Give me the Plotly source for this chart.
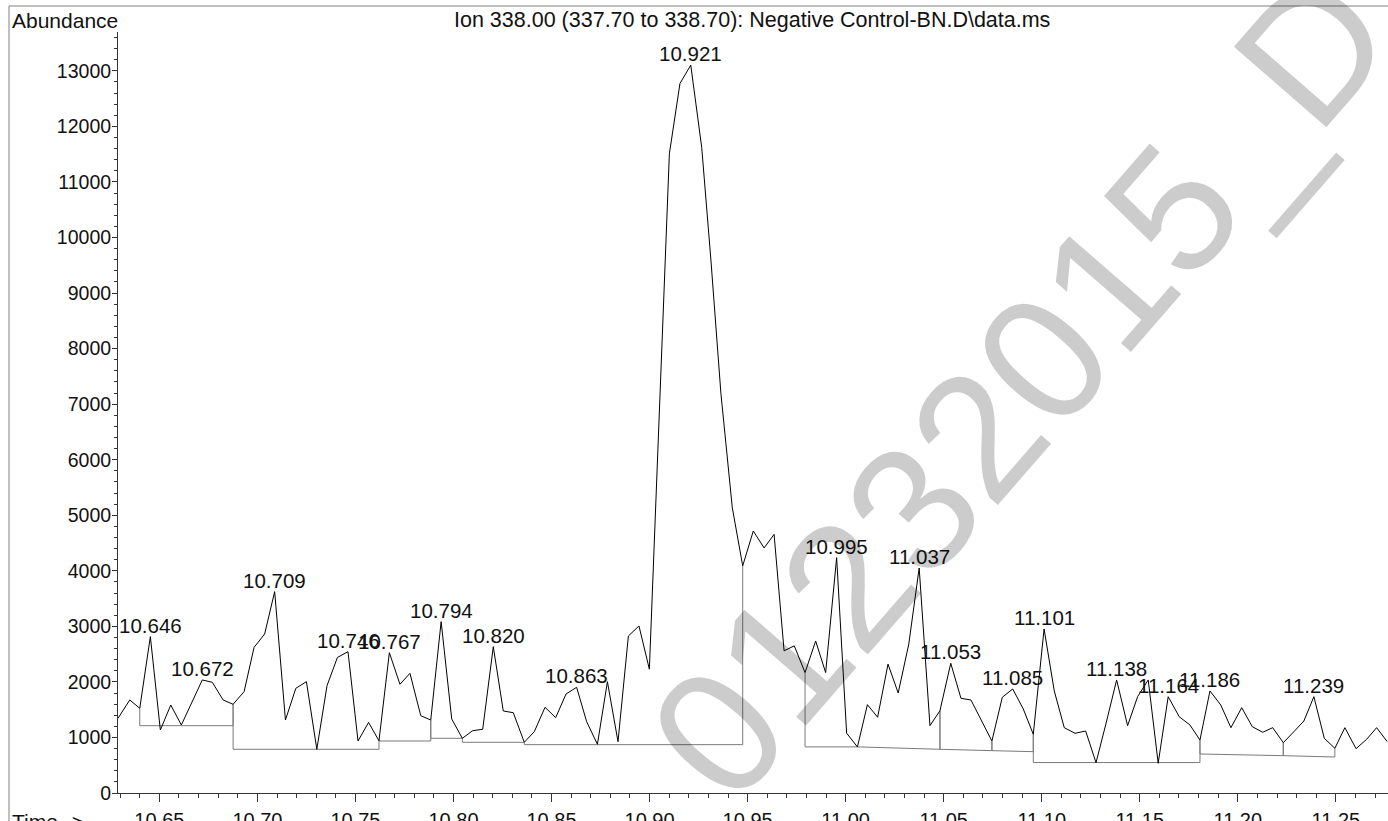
import plotly.graph_objects as go

# ---------------- data ----------------
times = [
    10.6289, 10.6349, 10.6400, 10.6454, 10.6505, 10.6558, 10.6612, 10.6667, 10.6719, 10.6770,
    10.6825, 10.6876, 10.6932, 10.6983, 10.7037, 10.7088, 10.7143, 10.7196, 10.7250, 10.7303,
    10.7355, 10.7408, 10.7462, 10.7513, 10.7567, 10.7620, 10.7673, 10.7727, 10.7778, 10.7833,
    10.7884, 10.7937, 10.7991, 10.8045, 10.8098, 10.8149, 10.8203, 10.8254, 10.8305, 10.8361,
    10.8412, 10.8467, 10.8521, 10.8574, 10.8628, 10.8679, 10.8734, 10.8785, 10.8839, 10.8892,
    10.8946, 10.8999, 10.9051, 10.9101, 10.9155, 10.9210, 10.9266, 10.9312, 10.9364, 10.9422,
    10.9475, 10.9529, 10.9584, 10.9635, 10.9686, 10.9738, 10.9793, 10.9847, 10.9898, 10.9954,
    11.0005, 11.0060, 11.0111, 11.0163, 11.0216, 11.0268, 11.0322, 11.0375, 11.0430, 11.0481,
    11.0536, 11.0588, 11.0639, 11.0694, 11.0746, 11.0799, 11.0852, 11.0906, 11.0957, 11.1012,
    11.1064, 11.1115, 11.1170, 11.1224, 11.1277, 11.1331, 11.1382, 11.1438, 11.1489, 11.1543,
    11.1594, 11.1645, 11.1701, 11.1756, 11.1807, 11.1858, 11.1913, 11.1965, 11.2020, 11.2074,
    11.2127, 11.2178, 11.2232, 11.2286, 11.2337, 11.2388, 11.2441, 11.2495, 11.2546, 11.2603,
    11.2657, 11.2708, 11.2762,
]
abundance = [
    1345, 1675, 1525, 2815, 1134, 1584, 1224, 1630, 2035, 1993,
    1675, 1597, 1824, 2623, 2863, 3625, 1314, 1885, 2004, 787,
    1932, 2440, 2544, 936, 1270, 940, 2526, 1957, 2155, 1392,
    1314, 3085, 1332, 985, 1122, 1147, 2634, 1476, 1446, 913,
    1104, 1543, 1356, 1782, 1903, 1284, 877, 2004, 924, 2827,
    3007, 2228, 6870, 11507, 12773, 13104, 11620, 9631, 7186, 5135,
    4089, 4717, 4411, 4656, 2560, 2649, 2168, 2737, 2168, 4237,
    1077, 830, 1590, 1364, 2320, 1800, 2680, 4050, 1212, 1482,
    2335, 1705, 1674, 1302, 936, 1723, 1873, 1512, 1057, 2953,
    1837, 1176, 1075, 1116, 546, 1296, 2035, 1212, 1734, 2035,
    535, 1734, 1374, 1224, 954, 1837, 1584, 1176, 1536, 1194,
    1093, 1176, 906, 1104, 1296, 1734, 985, 805, 1176, 798,
    967, 1176, 924,
]
label_times = [10.646, 10.672, 10.709, 10.746, 10.767, 10.794, 10.820, 10.863, 10.921,
               10.995, 11.037, 11.053, 11.085, 11.101, 11.138, 11.164, 11.186, 11.239]

# integration baselines
base_start = [10.6400, 10.6876, 10.7620, 10.7884, 10.8045, 10.8361, 10.9793,
              11.0060, 11.0481, 11.0746, 11.0957, 11.1807, 11.2232]
base_end = [10.6876, 10.7620, 10.7884, 10.8045, 10.8361, 10.9475, 11.0060,
            11.0481, 11.0746, 11.0957, 11.1807, 11.2232, 11.2495]
base_start_level = [1212, 787, 936, 985, 913, 870, 830, 830, 787, 762, 548, 702, 672]
base_end_level = [1212, 787, 936, 985, 913, 870, 830, 787, 762, 744, 548, 672, 648]

y_ticks = list(range(0, 14000, 1000))

title_text = "Ion 338.00 (337.70 to 338.70): Negative Control-BN.D\\data.ms"
watermark = "01232015_D"

# ---------------- layout geometry ----------------
W, H = 1388, 821
L, R, T, B = 118, 0, 32, 28
X_RANGE = [10.6289, 11.2766]
Y_RANGE = [0, 13700]
FONT = "Liberation Sans, Arial, Helvetica, sans-serif"


def pxx(xp):
    return (xp - L) / (W - L - R)


def pxy(yp):
    return (H - B - yp) / (H - T - B)


def nearest(t):
    return min(range(len(times)), key=lambda i: abs(times[i] - t))


fig = go.Figure()

# baselines (gray)
bx, by = [], []
for s, e, ls, le in zip(base_start, base_end, base_start_level, base_end_level):
    bx += [s, s, e, e, None]
    by += [abundance[nearest(s)], ls, le, abundance[nearest(e)], None]
fig.add_trace(go.Scatter(x=bx, y=by, mode="lines",
                         line=dict(color="#7a7a7a", width=1),
                         hoverinfo="skip", showlegend=False))

# chromatogram trace
fig.add_trace(go.Scatter(x=times, y=abundance, mode="lines",
                         line=dict(color="black", width=1),
                         showlegend=False))

annotations = []
for lt in label_times:
    i = nearest(lt)
    annotations.append(dict(x=times[i], y=abundance[i], xref="x", yref="y",
                            text=f"{lt:.3f}", showarrow=False,
                            xanchor="center", yanchor="bottom", yshift=-2,
                            font=dict(family=FONT, size=20.5, color="#111")))

annotations += [
    dict(x=pxx(10), y=pxy(20), xref="paper", yref="paper", text="Abundance",
         showarrow=False, xanchor="left", yanchor="middle",
         font=dict(family=FONT, size=21, color="#111")),
    dict(x=pxx(752), y=pxy(20), xref="paper", yref="paper", text=title_text,
         showarrow=False, xanchor="center", yanchor="middle",
         font=dict(family=FONT, size=21.5, color="#111")),
    dict(x=pxx(10), y=pxy(821), xref="paper", yref="paper", text="Time-->",
         showarrow=False, xanchor="left", yanchor="middle",
         font=dict(family=FONT, size=21, color="#111")),
    dict(x=pxx(1020), y=pxy(385), xref="paper", yref="paper", text=watermark,
         showarrow=False, xanchor="center", yanchor="middle", textangle=-49,
         font=dict(family=FONT, size=178, color="rgba(0,0,0,0.2)")),
]

shapes = [
    dict(type="line", xref="paper", yref="paper", x0=pxx(9), x1=pxx(W + 5),
         y0=pxy(6), y1=pxy(6), line=dict(color="#808080", width=1)),
    dict(type="line", xref="paper", yref="paper", x0=pxx(9), x1=pxx(9),
         y0=pxy(6), y1=pxy(H + 5), line=dict(color="#808080", width=1)),
]

fig.update_layout(
    template="none",
    width=W, height=H,
    margin=dict(l=L, r=R, t=T, b=B, pad=0),
    paper_bgcolor="white", plot_bgcolor="white",
    font=dict(family=FONT, size=20, color="#111"),
    showlegend=False,
    annotations=annotations,
    shapes=shapes,
    xaxis=dict(range=X_RANGE, tick0=10.65, dtick=0.05, tickformat=".2f",
               automargin=False,
               ticks="outside", ticklen=8, tickwidth=1, tickcolor="#333",
               showline=True, linecolor="#333", linewidth=1,
               showgrid=False, zeroline=False,
               tickfont=dict(family=FONT, size=20, color="#111"),
               ticklabelstandoff=1,
               minor=dict(tick0=10.65, dtick=0.01, ticks="outside", ticklen=4,
                          tickcolor="#333", tickwidth=1, showgrid=False)),
    yaxis=dict(range=Y_RANGE, tickvals=y_ticks, ticktext=[str(v) for v in y_ticks],
               automargin=False,
               ticks="outside", ticklen=5, tickwidth=1, tickcolor="#333",
               showline=True, linecolor="#333", linewidth=1,
               showgrid=False, zeroline=False,
               tickfont=dict(family=FONT, size=19.5, color="#111"),
               ticklabelstandoff=-3,
               minor=dict(dtick=200, ticks="outside", ticklen=3,
                          tickcolor="#333", tickwidth=1, showgrid=False)),
)

fig.write_html("out.html", config={"displayModeBar": False},
               post_script="document.body.style.margin='0';document.body.style.overflow='hidden';")
